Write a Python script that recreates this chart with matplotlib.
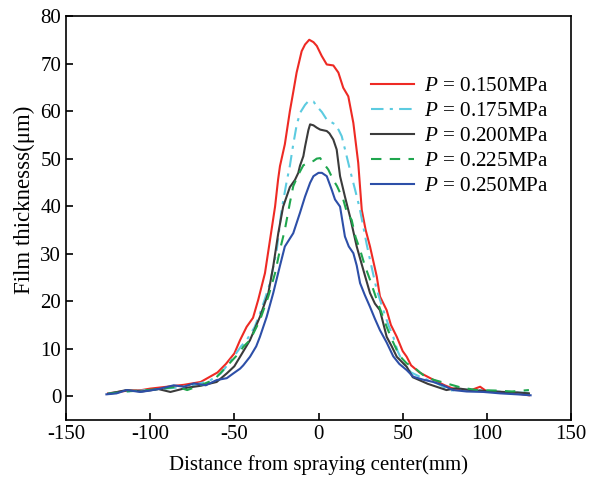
import numpy as np
import matplotlib
matplotlib.use('Agg')
import matplotlib.pyplot as plt

plt.rcParams['font.family'] = 'Liberation Serif'
plt.rcParams['mathtext.fontset'] = 'custom'
plt.rcParams['mathtext.rm'] = 'Liberation Serif'
plt.rcParams['mathtext.it'] = 'Liberation Serif:italic'
plt.rcParams['axes.unicode_minus'] = False

labels = ['0.150', '0.175', '0.200', '0.225', '0.250']

# P = 0.150 MPa
x_150 = [-125, -115, -105, -100, -90, -80, -70, -65, -60, -55, -50, -46.6, -42.7, -38.9, -35.8, -31.8, -28.8,
         -25.8, -24, -22.9, -20, -17, -15, -13, -10, -8, -5.5, -3, -1, 1.9, 4.9, 8.8, 11.8, 14.7, 17.7, 20.7,
         23.6, 25.7, 28, 30.6, 34.6, 36.5, 40.5, 43, 46.5, 50, 52.4, 55, 60, 68, 75, 80, 90, 96, 100, 110, 118, 125]
y_150 = [0.6, 1.1, 1.3, 1.6, 2.0, 2.4, 3.0, 4.0, 5.0, 6.8, 9.0, 11.8, 14.6, 16.5, 20.3, 25.9, 32.9,
         39.9, 45.6, 48.4, 53.0, 60.0, 64.0, 68.1, 72.6, 74.0, 75.0, 74.5, 73.7, 71.6, 69.8, 69.6, 68.1, 64.9, 63.1, 57.5,
         49.1, 39.2, 35.0, 31.5, 25.2, 21.0, 18.1, 15.0, 12.5, 9.5, 8.3, 6.5, 5.0, 3.5, 2.3, 1.6, 1.2, 2.0, 1.0, 0.8, 0.6, 0.2]

# P = 0.175 MPa
x_175 = [-125, -115, -105, -95, -85, -75, -65, -58, -51, -46, -42.7, -38, -34.8, -31.8, -28.8, -24.8, -21.9, -19,
         -17, -15, -13, -11, -8, -6, -3, -1, 2, 4.9, 7, 9.8, 12, 13.8, 15.7, 17.7, 19.5, 21.7, 24.5, 26.6, 28.6, 30.6,
         32.6, 34.6, 38.5, 41.5, 44.4, 47, 50.4, 55, 62, 70, 78, 85, 95, 105, 115, 125]
y_175 = [0.6, 1.0, 1.2, 1.5, 1.8, 2.3, 3.2, 4.8, 8.0, 10.5, 11.8, 14.5, 17.4, 20.5, 23.8, 30.8, 39.2, 45.0,
         48.5, 53.0, 57.0, 59.6, 61.3, 62.1, 62.0, 61.0, 59.8, 58.2, 57.8, 57.2, 56.0, 54.7, 52.0, 49.1, 46.5, 43.5, 39.5, 35.7, 32.0, 28.7,
         25.5, 22.4, 18.1, 15.0, 12.5, 9.5, 6.9, 5.0, 3.8, 2.8, 1.2, 1.4, 1.3, 1.0, 0.8, 0.7]

# P = 0.200 MPa
x_200 = [-125, -114, -105, -95, -88, -78, -70, -60.5, -54.5, -50, -46.6, -40.7, -34.8, -29.8, -26.9, -23.9, -21,
         -17, -14, -12, -11, -9, -8, -6, -5, -3, -1, 1, 4.9, 6.5, 8.8, 10.8, 12.8, 14.7, 15.7, 18.7, 22.7, 26.6,
         30.6, 33.5, 36.5, 40.5, 43.5, 46.5, 52.4, 56, 65, 76, 82, 90, 100, 110, 118, 125]
y_200 = [0.5, 1.3, 1.0, 1.5, 0.9, 1.8, 2.2, 3.0, 4.8, 6.3, 8.3, 11.8, 16.7, 21.7, 27.3, 34.3, 39.9,
         44.0, 45.5, 47.0, 48.5, 50.5, 52.5, 56.0, 57.2, 57.0, 56.5, 56.1, 55.8, 55.3, 54.0, 51.9, 46.3, 43.5, 42.0, 37.8, 31.5, 26.6,
         21.7, 19.5, 18.1, 12.5, 10.5, 8.3, 6.2, 4.0, 2.6, 1.3, 1.7, 1.3, 1.1, 0.9, 0.8, 0.6]

# P = 0.225 MPa
x_225 = [-125, -115, -105, -95, -84, -78, -70, -62, -56.6, -50.6, -46.6, -44.7, -40.7, -34.8, -29.8, -25.8, -22.9,
         -20, -17, -15, -12, -9, -6, -3, -1, 1, 3, 5.8, 8.8, 11, 12.8, 14.7, 17, 19.7, 22, 24.7, 27.5, 30.6,
         34.6, 37.5, 40.5, 43.5, 46.5, 49.5, 52.4, 56.3, 62, 68, 76, 85, 94, 105, 115, 125]
y_225 = [0.5, 1.0, 1.2, 1.5, 2.0, 1.3, 2.3, 3.5, 5.5, 7.8, 9.3, 10.4, 11.8, 16.0, 21.0, 25.9, 30.8,
         35.0, 40.7, 44.2, 46.6, 48.6, 49.1, 49.5, 50.0, 50.1, 49.0, 47.7, 45.5, 44.2, 42.8, 41.4, 38.5, 37.1, 33.5, 30.8, 27.5, 24.5,
         20.3, 17.5, 14.6, 12.0, 9.7, 8.0, 6.9, 6.2, 4.5, 3.5, 2.7, 1.8, 1.3, 1.2, 1.0, 1.3]

# P = 0.250 MPa
x_250 = [-126, -120, -114, -106, -100, -94, -86, -80, -74, -67, -60.5, -54.5, -50.6, -46.6, -44.7, -40.7, -37,
         -34.8, -30.8, -26.9, -23, -20, -15, -11, -8, -5, -3, 0, 2, 4.9, 7.8, 9.8, 12.8, 15.7, 18, 20.7, 22.7,
         24.7, 27.5, 30.6, 33.5, 36.5, 40.5, 44.4, 48, 52.4, 56.3, 62, 68.2, 74, 80, 88, 98, 108, 118, 126]
y_250 = [0.4, 0.6, 1.3, 0.9, 1.2, 1.6, 2.3, 2.0, 2.7, 2.3, 3.4, 3.8, 4.8, 5.8, 6.5, 8.3, 10.5,
         12.5, 16.7, 21.7, 27.3, 31.5, 34.3, 38.6, 42.0, 44.9, 46.3, 47.0, 47.0, 46.3, 43.5, 41.4, 39.9, 33.6, 31.5, 30.1, 27.5,
         23.8, 21.3, 18.8, 16.3, 13.9, 11.3, 8.4, 6.8, 5.5, 4.1, 3.5, 3.0, 2.3, 1.3, 1.0, 0.9, 0.6, 0.4, 0.2]

fig = plt.figure(figsize=(5.89, 4.86), dpi=100)
ax = fig.add_axes([66/589, 1 - 420/486, (571 - 66)/589, (420 - 16)/486])

lw = 1.5
ax.plot(x_150, y_150, color='#ee2a24', lw=lw, ls='-', label=r'$\mathit{P}$ = ' + labels[0] + 'MPa')
ax.plot(x_175, y_175, color='#5ccbe0', lw=lw, ls=(0, (6, 3, 1.5, 3)), label=r'$\mathit{P}$ = ' + labels[1] + 'MPa')
ax.plot(x_200, y_200, color='#3b3b3b', lw=lw, ls='-', label=r'$\mathit{P}$ = ' + labels[2] + 'MPa')
ax.plot(x_225, y_225, color='#1fa64e', lw=lw, ls=(0, (5, 4)), label=r'$\mathit{P}$ = ' + labels[3] + 'MPa')
ax.plot(x_250, y_250, color='#2d4fa8', lw=lw, ls='-', label=r'$\mathit{P}$ = ' + labels[4] + 'MPa')

ax.set_xlim(-150, 150)
ax.set_ylim(-5, 80)
ax.set_xticks(np.arange(-150, 151, 50))
ax.set_yticks(np.arange(0, 81, 10))
ax.tick_params(direction='in', length=5, width=1.2, labelsize=15, top=False, right=False)
for s in ax.spines.values():
    s.set_linewidth(1.2)

ax.set_xlabel('Distance from spraying center(mm)', fontsize=15, labelpad=8)
ax.set_ylabel('Film thicknesss(μm)', fontsize=16.5)
ax.yaxis.set_label_coords(-0.062, 0.545)

ax.legend(loc='upper right', bbox_to_anchor=(0.993, 0.898), frameon=False, fontsize=15.2,
          handlelength=2.0, handletextpad=0.48, labelspacing=0.25)

plt.savefig('out.png', dpi=100)
